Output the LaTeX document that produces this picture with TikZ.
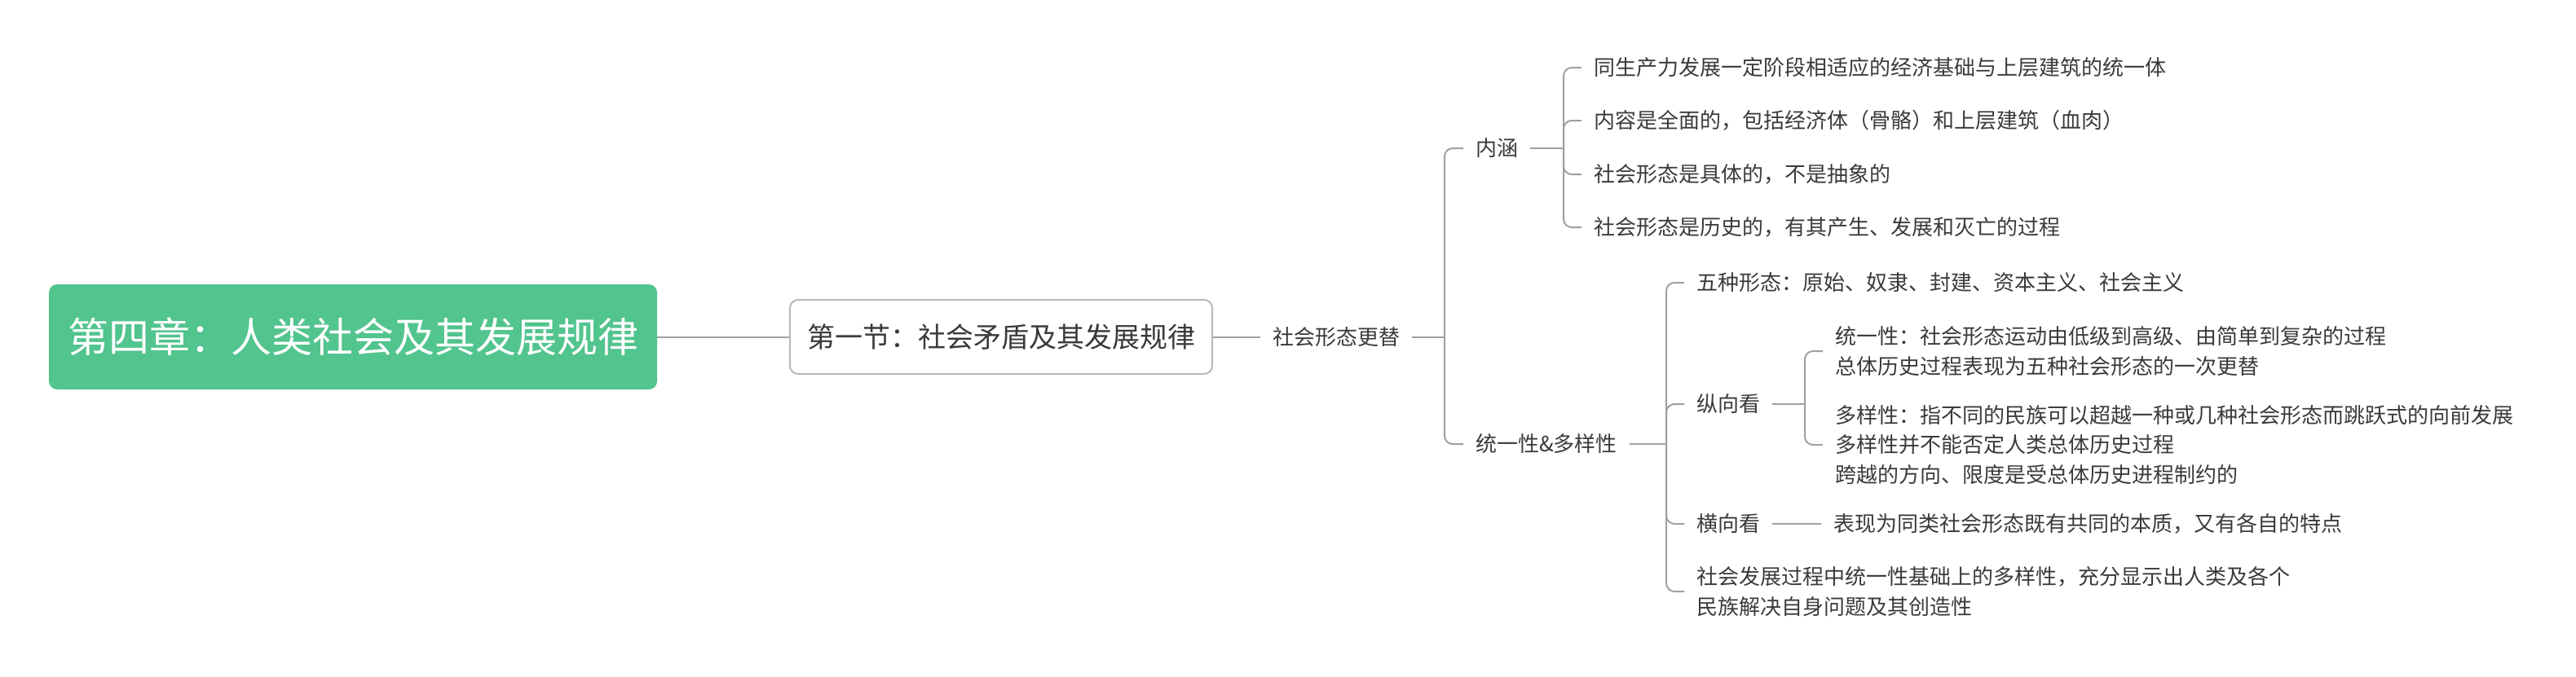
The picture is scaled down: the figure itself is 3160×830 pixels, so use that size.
\documentclass[tikz,border=0pt]{standalone}
\usepackage{fontspec}
\setmainfont{Noto Sans CJK SC}
\definecolor{rootgreen}{HTML}{52C48E}
\definecolor{linegray}{HTML}{A0A0A0}
\definecolor{boxgray}{HTML}{B8B8B8}
\definecolor{txt}{HTML}{3A3A3A}
\begin{document}
\begin{tikzpicture}[x=1pt,y=-1pt,
  conn/.style={draw=linegray, line width=2pt, rounded corners=10pt},
  leaf/.style={anchor=west, inner xsep=15pt, inner ysep=2pt, text=txt, font=\fontsize{26}{36.5}\selectfont, align=left}]
\useasboundingbox (0,0) rectangle (3160,830);
\node[fill=rootgreen, rounded corners=10pt, minimum width=746pt, minimum height=129pt, text=white, font=\fontsize{50}{60}\selectfont] (root) at (433,413.5) {第四章：人类社会及其发展规律};
\node[draw=boxgray, line width=2pt, fill=white, rounded corners=10pt, minimum width=518pt, minimum height=91pt, text=txt, font=\fontsize{34}{40}\selectfont] (sec) at (1228,413.5) {第一节：社会矛盾及其发展规律};
\node[leaf] (xt) at (1546,413.5) {社会形态更替};
\node[leaf] (nh) at (1795,182) {内涵};
\node[leaf] (nh1) at (1940,83) {同生产力发展一定阶段相适应的经济基础与上层建筑的统一体};
\node[leaf] (nh2) at (1940,148) {内容是全面的，包括经济体（骨骼）和上层建筑（血肉）};
\node[leaf] (nh3) at (1940,214) {社会形态是具体的，不是抽象的};
\node[leaf] (nh4) at (1940,279) {社会形态是历史的，有其产生、发展和灭亡的过程};
\node[leaf] (ty) at (1795,545) {统一性\&多样性};
\node[leaf] (wz) at (2066,347) {五种形态：原始、奴隶、封建、资本主义、社会主义};
\node[leaf] (zx) at (2066,496) {纵向看};
\node[leaf] (zx1) at (2236,431) {统一性：社会形态运动由低级到高级、由简单到复杂的过程\\总体历史过程表现为五种社会形态的一次更替};
\node[leaf] (zx2) at (2236,546) {多样性：指不同的民族可以超越一种或几种社会形态而跳跃式的向前发展\\多样性并不能否定人类总体历史过程\\跨越的方向、限度是受总体历史进程制约的};
\node[leaf] (hx) at (2066,643) {横向看};
\node[leaf] (hx1) at (2234,643) {表现为同类社会形态既有共同的本质，又有各自的特点};
\node[leaf] (fz) at (2066,726) {社会发展过程中统一性基础上的多样性，充分显示出人类及各个\\民族解决自身问题及其创造性};
\draw[conn] (root.east) -- (sec.west);
\draw[conn] (sec.east) -- (xt.west);
\coordinate (bA) at (1772,413.5);
\draw[conn] (xt.east) -- (bA);
\draw[conn] (bA) |- (nh.west);
\draw[conn] (bA) |- (ty.west);
\coordinate (bB) at (1918,182);
\draw[conn] (nh.east) -- (bB);
\foreach \c in {nh1,nh2,nh3,nh4} \draw[conn] (bB) |- (\c.west);
\coordinate (bC) at (2044,545);
\draw[conn] (ty.east) -- (bC);
\foreach \c in {wz,zx,hx,fz} \draw[conn] (bC) |- (\c.west);
\coordinate (bD) at (2214,496);
\draw[conn] (zx.east) -- (bD);
\foreach \c in {zx1,zx2} \draw[conn] (bD) |- (\c.west);
\draw[conn] (hx.east) -- (hx1.west);
\end{tikzpicture}
\end{document}
